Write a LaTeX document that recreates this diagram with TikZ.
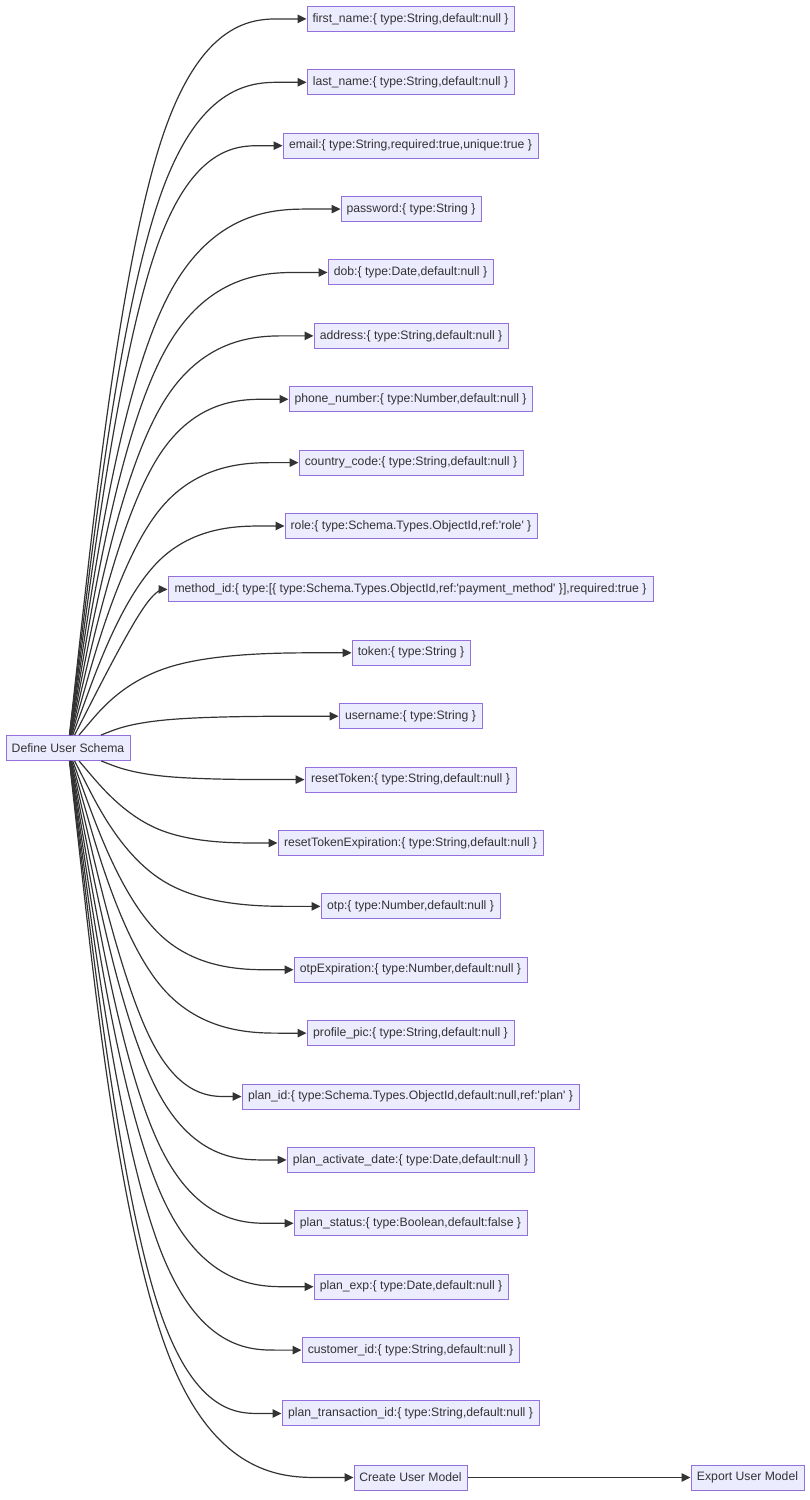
\documentclass[tikz,border=0pt]{standalone}
\usepackage{fontspec}
\setmainfont{Liberation Sans}
\usetikzlibrary{calc,arrows.meta}
\definecolor{mmfill}{HTML}{ECECFF}
\definecolor{mmstroke}{HTML}{9370DB}
\definecolor{mmtext}{HTML}{333333}
\definecolor{edgec}{HTML}{333333}
\newcommand\fedge[1]{%
  \path (src) -- coordinate[pos=0] (A) (bx |- #1);
  \coordinate (B) at (bx |- #1);
  \draw[edge] (src) -- ($(A)!0.16667!(B)$)
    .. controls ($(A)!0.33333!(B)$) and ($(A)!0.66667!(B)$) ..
    ($0.16667*(A)+0.66667*(B)+0.16667*(#1.west)$)
    .. controls ($(B)!0.33333!(#1.west)$) and ($(B)!0.66667!(#1.west)$) ..
    ($(B)!0.83333!(#1.west)$) -- (#1);%
}
\begin{document}
\begin{tikzpicture}[x=1pt,y=-1pt,
  box/.style={draw=mmstroke, fill=mmfill, line width=1pt, text=mmtext,
    font=\fontsize{12.2}{14}\selectfont, minimum height=25pt,
    inner xsep=0pt, inner ysep=0pt, anchor=center},
  edge/.style={draw=edgec, line width=1.2pt, -{Triangle[length=9pt,width=8.5pt]}}]
\useasboundingbox (0,0) rectangle (810,1500);
\coordinate (bx) at (149,0);
\def\rowy#1{\fpeval{18.9+63.39*#1}}
\node[box, minimum width=124pt] (src) at (68,748) {Define User Schema};
\node[box, minimum width=207pt] (n0) at (410.5,\rowy{0}) {first\_name:\{ type:String,default:null \}};
\node[box, minimum width=207pt] (n1) at (410.5,\rowy{1}) {last\_name:\{ type:String,default:null \}};
\node[box, minimum width=255pt] (n2) at (410.5,\rowy{2}) {email:\{ type:String,required:true,unique:true \}};
\node[box, minimum width=140pt] (n3) at (411,\rowy{3}) {password:\{ type:String \}};
\node[box, minimum width=165pt] (n4) at (410.5,\rowy{4}) {dob:\{ type:Date,default:null \}};
\node[box, minimum width=194pt] (n5) at (411,\rowy{5}) {address:\{ type:String,default:null \}};
\node[box, minimum width=243pt] (n6) at (410.5,\rowy{6}) {phone\_number:\{ type:Number,default:null \}};
\node[box, minimum width=224pt] (n7) at (411,\rowy{7}) {country\_code:\{ type:String,default:null \}};
\node[box, minimum width=252pt] (n8) at (411,\rowy{8}) {role:\{ type:Schema.Types.ObjectId,ref:\textquotesingle role\textquotesingle\ \}};
\node[box, minimum width=485pt] (n9) at (410.5,\rowy{9}) {method\_id:\{ type:[\{ type:Schema.Types.ObjectId,ref:\textquotesingle payment\_method\textquotesingle\ \}],required:true \}};
\node[box, minimum width=118pt] (n10) at (411,\rowy{10}) {token:\{ type:String \}};
\node[box, minimum width=143pt] (n11) at (410.5,\rowy{11}) {username:\{ type:String \}};
\node[box, minimum width=211pt] (n12) at (410.5,\rowy{12}) {resetToken:\{ type:String,default:null \}};
\node[box, minimum width=265pt] (n13) at (410.5,\rowy{13}) {resetTokenExpiration:\{ type:String,default:null \}};
\node[box, minimum width=179pt] (n14) at (410.5,\rowy{14}) {otp:\{ type:Number,default:null \}};
\node[box, minimum width=233pt] (n15) at (410.5,\rowy{15}) {otpExpiration:\{ type:Number,default:null \}};
\node[box, minimum width=207pt] (n16) at (410.5,\rowy{16}) {profile\_pic:\{ type:String,default:null \}};
\node[box, minimum width=337pt] (n17) at (410.5,\rowy{17}) {plan\_id:\{ type:Schema.Types.ObjectId,default:null,ref:\textquotesingle plan\textquotesingle\ \}};
\node[box, minimum width=247pt] (n18) at (410.5,\rowy{18}) {plan\_activate\_date:\{ type:Date,default:null \}};
\node[box, minimum width=233pt] (n19) at (410.5,\rowy{19}) {plan\_status:\{ type:Boolean,default:false \}};
\node[box, minimum width=194pt] (n20) at (411,\rowy{20}) {plan\_exp:\{ type:Date,default:null \}};
\node[box, minimum width=217pt] (n21) at (410.5,\rowy{21}) {customer\_id:\{ type:String,default:null \}};
\node[box, minimum width=257pt] (n22) at (410.5,\rowy{22}) {plan\_transaction\_id:\{ type:String,default:null \}};
\node[box, minimum width=113pt] (cm) at (410.5,1477.5) {Create User Model};
\node[box, minimum width=113pt] (em) at (747.5,1477.5) {Export User Model};
\foreach \k in {0,...,22} {\fedge{n\k}}
\fedge{cm}
\draw[edge] (cm) -- (em);
\end{tikzpicture}
\end{document}
